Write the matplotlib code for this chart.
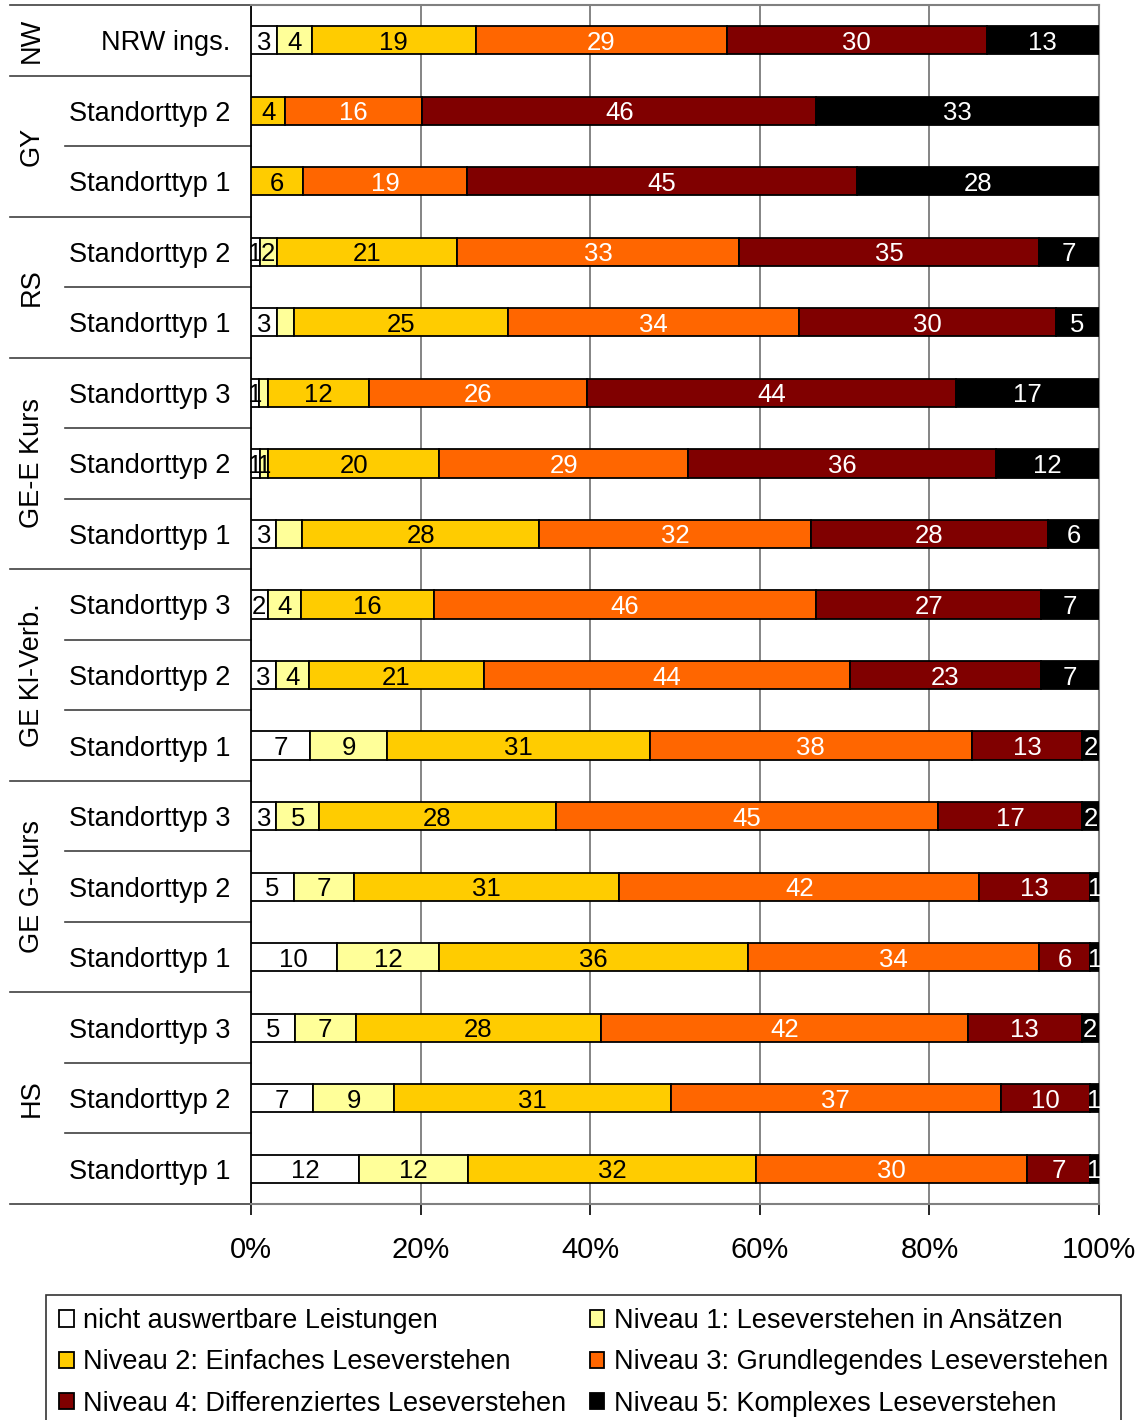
import matplotlib
matplotlib.use('Agg')
import matplotlib.pyplot as plt
import matplotlib.transforms as mtransforms
import numpy as np

plt.rcParams['font.family'] = ['Liberation Sans', 'DejaVu Sans']

# Zeilen von oben nach unten
row_labels = ['NRW ings.',
              'Standorttyp 2', 'Standorttyp 1',
              'Standorttyp 2', 'Standorttyp 1',
              'Standorttyp 3', 'Standorttyp 2', 'Standorttyp 1',
              'Standorttyp 3', 'Standorttyp 2', 'Standorttyp 1',
              'Standorttyp 3', 'Standorttyp 2', 'Standorttyp 1',
              'Standorttyp 3', 'Standorttyp 2', 'Standorttyp 1']

# Schulformgruppen: (Name, erste Zeile, letzte Zeile)
groups = [('NW', 0, 0), ('GY', 1, 2), ('RS', 3, 4), ('GE-E Kurs', 5, 7),
          ('GE Kl-Verb.', 8, 10), ('GE G-Kurs', 11, 13), ('HS', 14, 16)]

series_names = ['nicht auswertbare Leistungen',
                'Niveau 1: Leseverstehen in Ansätzen',
                'Niveau 2: Einfaches Leseverstehen',
                'Niveau 3: Grundlegendes Leseverstehen',
                'Niveau 4: Differenziertes Leseverstehen',
                'Niveau 5: Komplexes Leseverstehen']

nicht = [3, 0, 0, 1, 3, 1, 1, 3, 2, 3, 7, 3, 5, 10, 5, 7, 12]
niveau1 = [4, 0, 0, 2, 2, 1, 1, 3, 4, 4, 9, 5, 7, 12, 7, 9, 12]
niveau2 = [19, 4, 6, 21, 25, 12, 20, 28, 16, 21, 31, 28, 31, 36, 28, 31, 32]
niveau3 = [29, 16, 19, 33, 34, 26, 29, 32, 46, 44, 38, 45, 42, 34, 42, 37, 30]
niveau4 = [30, 46, 45, 35, 30, 44, 36, 28, 27, 23, 13, 17, 13, 6, 13, 10, 7]
niveau5 = [13, 33, 28, 7, 5, 17, 12, 6, 7, 7, 2, 2, 1, 1, 2, 1, 1]

# Segmente ohne Beschriftung im Original (Zeile, Serie)
hidden_labels = {(4, 1), (5, 1), (7, 1)}

colors = ['#FFFFFF', '#FFFF99', '#FFCC00', '#FF6600', '#800000', '#000000']
text_colors = ['black', 'black', 'black', 'white', 'white', 'white']

data = np.array([nicht, niveau1, niveau2, niveau3, niveau4, niveau5], dtype=float)
pct = data / data.sum(axis=0) * 100

fig = plt.figure(figsize=(11.47, 14.2), dpi=100)
ax = fig.add_axes([251/1147, 1 - 1204/1420, 848/1147, 1199/1420])

y = np.arange(len(row_labels))
left = np.zeros(len(row_labels))
handles = []
for s in range(6):
    bars = ax.barh(y, pct[s], left=left, height=0.4, color=colors[s],
                   edgecolor='black', linewidth=1.3, zorder=3, label=series_names[s])
    handles.append(bars)
    for r in range(len(row_labels)):
        if data[s, r] == 0 or (r, s) in hidden_labels:
            continue
        ax.text(left[r] + pct[s, r] / 2, y[r], f'{int(data[s, r])}',
                ha='center', va='center_baseline', fontsize=18.5,
                color=text_colors[s], zorder=4)
    left += pct[s]

ax.set_xlim(0, 100)
ax.set_ylim(len(row_labels) - 0.5, -0.5)
ax.set_xticks([0, 20, 40, 60, 80, 100])
ax.set_xticklabels(['0%', '20%', '40%', '60%', '80%', '100%'], fontsize=21)
ax.set_yticks(y)
ax.set_yticklabels(row_labels, fontsize=19.5)
ax.tick_params(axis='y', length=0, pad=15)
ax.tick_params(axis='x', length=8, width=1.2, color='black', pad=15, direction='out')
ax.grid(axis='x', color='#707070', linewidth=1.2, zorder=0)
ax.set_axisbelow(True)
for side in ['top', 'right', 'bottom']:
    ax.spines[side].set_color('#808080')
    ax.spines[side].set_linewidth(1.5)
ax.spines['left'].set_color('black')
ax.spines['left'].set_linewidth(1.3)

# Trennlinien und Gruppennamen links
trans = mtransforms.blended_transform_factory(ax.transAxes, ax.transData)
x_full = (10 - 251) / 848
x_short = (65 - 251) / 848
x_group = (32 - 251) / 848
for name, first, last in groups:
    ax.plot([x_full, 0], [first - 0.5, first - 0.5], transform=trans,
            color='#404040', linewidth=1.2, clip_on=False)
    for r in range(first + 1, last + 1):
        ax.plot([x_short, 0], [r - 0.5, r - 0.5], transform=trans,
                color='#404040', linewidth=1.2, clip_on=False)
    ax.text(x_group, (first + last) / 2, name, transform=trans, rotation=90,
            ha='center', va='center', fontsize=19.5)
ax.plot([x_full, 0], [len(row_labels) - 0.5] * 2, transform=trans,
        color='#404040', linewidth=1.2, clip_on=False)

# Legende zeilenweise wie im Original
order = [0, 2, 4, 1, 3, 5]
leg = fig.legend([handles[i] for i in order], [series_names[i] for i in order],
                 ncol=2, loc='upper left', bbox_to_anchor=(46/1147, 1 - 1295/1420),
                 fontsize=19.5, frameon=True, fancybox=False, edgecolor='black',
                 handlelength=0.55, handleheight=0.55, handletextpad=0.35,
                 columnspacing=0.85, labelspacing=0.57, borderpad=0.48,
                 borderaxespad=0)
leg.get_frame().set_linewidth(1.2)

plt.savefig('out.png', dpi=100, facecolor='white')
plt.close()
